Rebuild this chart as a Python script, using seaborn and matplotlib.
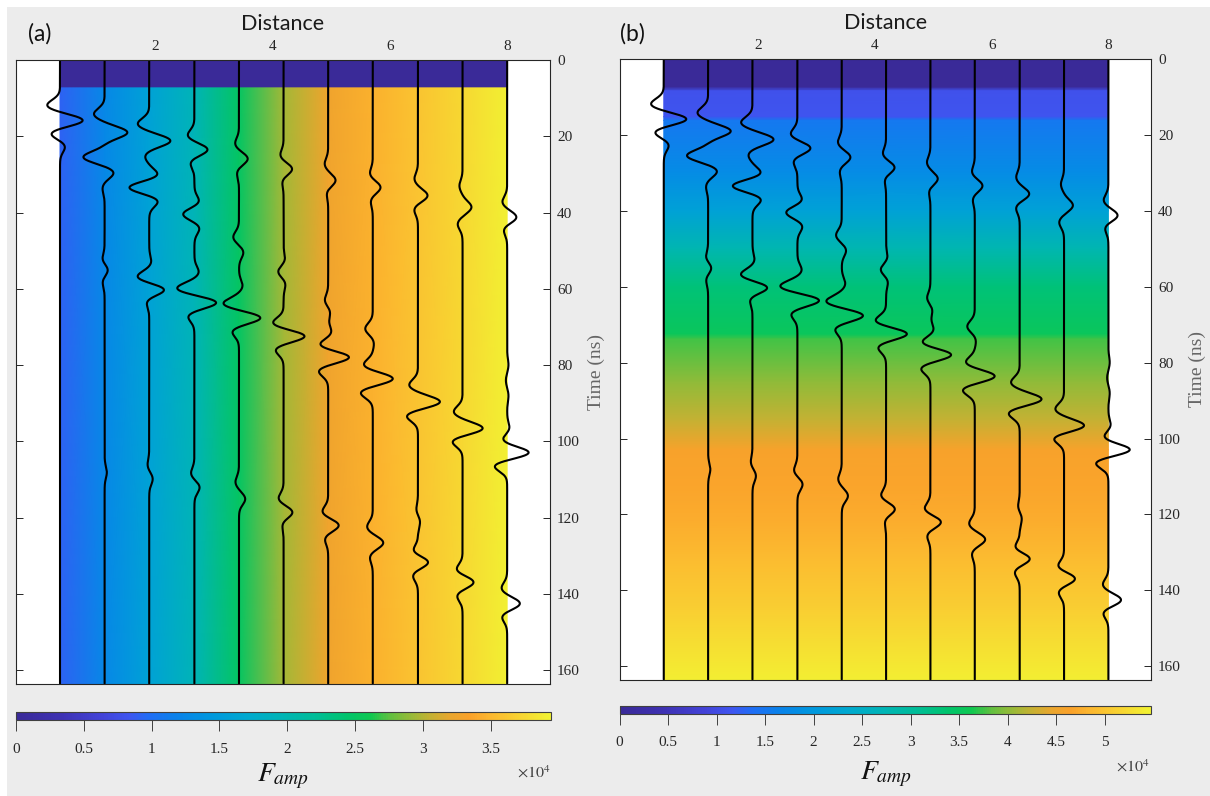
import numpy as np
import pandas as pd
import matplotlib
matplotlib.use("Agg")
import matplotlib.pyplot as plt
import seaborn as sns
from matplotlib.colors import LinearSegmentedColormap
from matplotlib.patches import Rectangle

sns.set_style("white")
plt.rcParams["font.family"] = ["Liberation Serif", "DejaVu Serif"]
plt.rcParams["mathtext.fontset"] = "stix"

# ---------------------------------------------------------------- data
# receiver positions along the profile
trace_distance = [0.38, 1.14, 1.90, 2.67, 3.43, 4.19, 4.95, 5.71, 6.48, 7.24, 8.00]
trace_spacing = 0.762

# wiggle lobes of every trace: arrival time (ns) and deflection (in trace spacings)
lobe_time = [
    [12.0, 15.9, 19.1, 22.6],
    [14.2, 19.0, 25.5, 29.5, 33.5, 52.5, 55.0, 58.0, 108.1],
    [16.8, 21.2, 25.1, 30.3, 33.4, 36.9, 53.0, 57.0, 60.2, 63.1, 106.3, 109.8],
    [19.9, 23.5, 26.8, 37.3, 40.4, 44.0, 55.7, 60.0, 63.6, 67.0, 108.5, 112.0],
    [22.0, 25.9, 29.5, 46.5, 50.4, 59.2, 64.0, 67.6, 71.0, 110.7, 115.1],
    [25.1, 28.6, 31.6, 52.5, 55.5, 58.5, 69.2, 72.4, 75.8, 115.1, 118.6, 121.5],
    [27.3, 31.6, 34.7, 63.1, 66.0, 71.5, 74.9, 77.9, 81.4, 118.6, 122.0, 125.5],
    [29.9, 33.4, 36.9, 70.5, 74.0, 80.1, 83.6, 87.1, 122.5, 126.6, 130.3],
    [31.2, 35.6, 39.1, 85.3, 89.7, 93.2, 118.0, 121.0, 129.0, 131.6, 135.1],
    [33.0, 38.6, 43.0, 92.3, 96.7, 99.8, 133.8, 136.9, 140.4],
    [37.3, 41.3, 44.3, 80.0, 84.0, 88.0, 96.7, 99.8, 103.0, 106.3, 138.6, 142.6, 145.8],
]
lobe_amp = [
    [-0.30, 0.54, -0.24, 0.12],
    [-0.24, 0.51, -0.48, 0.21, -0.05, -0.06, 0.09, -0.05, 0.05],
    [-0.26, 0.48, -0.10, 0.22, -0.48, 0.21, 0.05, -0.29, 0.37, -0.08, -0.04, 0.08],
    [-0.16, 0.31, -0.10, 0.12, -0.27, 0.12, 0.10, -0.41, 0.52, -0.16, -0.08, 0.12],
    [-0.09, 0.20, -0.05, -0.13, 0.10, 0.08, -0.37, 0.51, -0.17, -0.08, 0.14],
    [-0.08, 0.20, -0.04, 0.04, -0.13, 0.05, -0.27, 0.51, -0.20, -0.12, 0.21, -0.04],
    [-0.08, 0.17, -0.04, -0.08, 0.05, 0.08, -0.23, 0.51, -0.23, -0.14, 0.25, -0.08],
    [-0.07, 0.18, -0.05, -0.17, 0.03, -0.22, 0.48, -0.29, -0.13, 0.24, -0.07],
    [-0.08, 0.22, -0.09, -0.20, 0.51, -0.27, -0.04, 0.05, -0.13, 0.26, -0.12],
    [-0.07, 0.20, -0.11, -0.20, 0.48, -0.26, -0.15, 0.27, -0.13],
    [-0.11, 0.22, -0.09, 0.03, -0.03, 0.03, 0.06, -0.13, 0.52, -0.31, -0.13, 0.30, -0.13],
]
lobe_width = 1.5  # ns

# panel (a): F_amp along distance (value at each trace, below the surface layer)
famp_a = [0.92e4, 1.25e4, 1.60e4, 1.95e4, 2.50e4, 2.95e4, 3.25e4, 3.45e4, 3.60e4, 3.75e4, 3.92e4]
surface_a = 7.3
famp_a_max = 3.94e4

# panel (b): F_amp along time
time_b = [0.0, 7.4, 8.4, 15.2, 16.2, 30.0, 40.0, 50.0, 60.0, 72.5, 73.8, 85.0, 95.0,
          103.0, 112.0, 122.0, 132.0, 145.0, 163.5]
famp_b = [0.0, 0.0, 1.10e4, 1.15e4, 1.50e4, 1.80e4, 2.20e4, 2.80e4, 3.30e4, 3.55e4, 3.75e4,
          4.00e4, 4.25e4, 4.60e4, 4.68e4, 4.75e4, 4.90e4, 5.10e4, 5.42e4]
famp_b_max = 5.475e4

t_max = 163.5
cbar_ticks_a = [0, 0.5, 1, 1.5, 2, 2.5, 3, 3.5]
cbar_ticks_b = [0, 0.5, 1, 1.5, 2, 2.5, 3, 3.5, 4, 4.5, 5]

# parula-like palette
palette_stops = [
    (0.00, "#3a2a98"), (0.08, "#3e31b2"), (0.16, "#4343d8"), (0.21, "#3f55f0"),
    (0.25, "#1f6ef5"), (0.30, "#0a82ea"), (0.36, "#0097df"), (0.43, "#00a9d0"),
    (0.50, "#00b5b5"), (0.56, "#00bd98"), (0.62, "#00c46c"), (0.665, "#10c850"),
    (0.70, "#60c040"), (0.74, "#98ba38"), (0.78, "#c8b032"), (0.815, "#eaa62e"),
    (0.85, "#faa12a"), (0.89, "#fcb830"), (0.945, "#f8d432"), (1.00, "#f2f232"),
]
parula = LinearSegmentedColormap.from_list("parula_like", palette_stops)

# ---------------------------------------------------------------- traces
t = np.arange(0.0, t_max + 0.05, 0.1)
frames = []
for k, x0 in enumerate(trace_distance):
    w = np.zeros_like(t)
    for tc, a in zip(lobe_time[k], lobe_amp[k]):
        w += a * np.exp(-0.5 * ((t - tc) / lobe_width) ** 2)
    frames.append(pd.DataFrame({"trace": k, "x": x0 + trace_spacing * w, "time": t}))
traces = pd.concat(frames, ignore_index=True)

# ---------------------------------------------------------------- figure
W, H = 1210, 796
fig = plt.figure(figsize=(W / 100, H / 100), dpi=100, facecolor="#ececec")

# white margin along the top and left border
fig.patches.append(Rectangle((0, 1 - 7 / H), 1, 7 / H, transform=fig.transFigure,
                             facecolor="white", edgecolor="none", zorder=0))
fig.patches.append(Rectangle((0, 0), 7 / W, 1, transform=fig.transFigure,
                             facecolor="white", edgecolor="none", zorder=0))


def fx(px):
    return px / W


def fy(py):
    return 1 - py / H


axes_box = {
    "a": (16, 550, 60, 683.5),
    "b": (620, 1151, 59, 679.5),
}
cbar_box = {
    "a": (15.8, 550.6, 711.7, 720.3),
    "b": (619.5, 1150.6, 706, 714),
}

edge = "#262626"


def style_axes(ax):
    ax.set_xlim(-0.37, 8.73)
    ax.set_ylim(t_max, 0)
    ax.set_facecolor("white")
    for s in ax.spines.values():
        s.set_visible(True)
        s.set_color(edge)
        s.set_linewidth(0.8)
    ax.set_xticks([2, 4, 6, 8])
    ax.set_yticks(np.arange(0, 161, 20))
    ax.xaxis.set_ticks_position("both")
    ax.yaxis.set_ticks_position("both")
    ax.tick_params(axis="x", direction="in", length=5, width=0.7, color=edge,
                   top=True, bottom=True, labeltop=True, labelbottom=False,
                   labelsize=11, pad=5, labelcolor="#262626")
    ax.tick_params(axis="y", direction="in", length=5, width=0.7, color=edge,
                   left=True, right=True, labelleft=False, labelright=True,
                   labelsize=11, pad=5, labelcolor="#262626")
    ax.xaxis.set_label_position("top")
    ax.yaxis.set_label_position("right")
    ax.set_xlabel("Distance", family=["Lato", "DejaVu Sans"], fontsize=15.5, labelpad=7,
                  color="#1a1a1a")
    ax.set_ylabel("Time (ns)", fontsize=14, color="#666666", labelpad=6, rotation=90)
    ax.grid(False)


def draw_colorbar(mesh, key, ticks, xlabel_pos, exp_pos):
    l, r, tp, bt = cbar_box[key]
    cax = fig.add_axes([fx(l), fy(bt), fx(r - l), (bt - tp) / H])
    cb = fig.colorbar(mesh, cax=cax, orientation="horizontal")
    cb.outline.set_edgecolor("#404040")
    cb.outline.set_linewidth(0.8)
    cb.set_ticks([v * 1e4 for v in ticks])
    cb.set_ticklabels([f"{v:g}" for v in ticks])
    cax.tick_params(axis="x", direction="out", length=8, width=0.7, color="#404040",
                    labelsize=11, pad=8, labelcolor="#262626")
    fig.text(fx(xlabel_pos[0]), fy(xlabel_pos[1]), r"$F_{amp}$", fontsize=20,
             ha="center", va="center", color="#111111")
    fig.text(fx(exp_pos[0]), fy(exp_pos[1]), r"$\times10^{4}$", fontsize=11.5,
             ha="right", va="center", color="#404040")
    return cb


# panel (a): F_amp varies with distance
l, r, tp, bt = axes_box["a"]
ax_a = fig.add_axes([fx(l), fy(bt), fx(r - l), (bt - tp) / H])
ya = [0.0, surface_a, surface_a, t_max]
ca = np.vstack([np.zeros(len(famp_a)), np.zeros(len(famp_a)), famp_a, famp_a])
mesh_a = ax_a.pcolormesh(trace_distance, ya, ca, shading="gouraud", cmap=parula,
                         vmin=0, vmax=famp_a_max, rasterized=True)
sns.lineplot(data=traces, x="x", y="time", units="trace", estimator=None, sort=False,
             color="black", linewidth=1.5, ax=ax_a, legend=False)
style_axes(ax_a)
draw_colorbar(mesh_a, "a", cbar_ticks_a, (283, 776), (551, 773))

# panel (b): F_amp varies with time
l, r, tp, bt = axes_box["b"]
ax_b = fig.add_axes([fx(l), fy(bt), fx(r - l), (bt - tp) / H])
xb = [trace_distance[0], trace_distance[-1]]
cb_vals = np.column_stack([famp_b, famp_b])
mesh_b = ax_b.pcolormesh(xb, time_b, cb_vals, shading="gouraud", cmap=parula,
                         vmin=0, vmax=famp_b_max, rasterized=True)
sns.lineplot(data=traces, x="x", y="time", units="trace", estimator=None, sort=False,
             color="black", linewidth=1.5, ax=ax_b, legend=False)
style_axes(ax_b)
draw_colorbar(mesh_b, "b", cbar_ticks_b, (886, 774), (1150, 767))

# panel tags
for tag, (px, py) in {"(a)": (28, 34), "(b)": (620, 34)}.items():
    fig.text(fx(px), fy(py), tag, family=["Lato", "DejaVu Sans"], fontsize=16.5,
             ha="left", va="center", color="#111111")

fig.savefig("out.png", dpi=100, facecolor=fig.get_facecolor())
